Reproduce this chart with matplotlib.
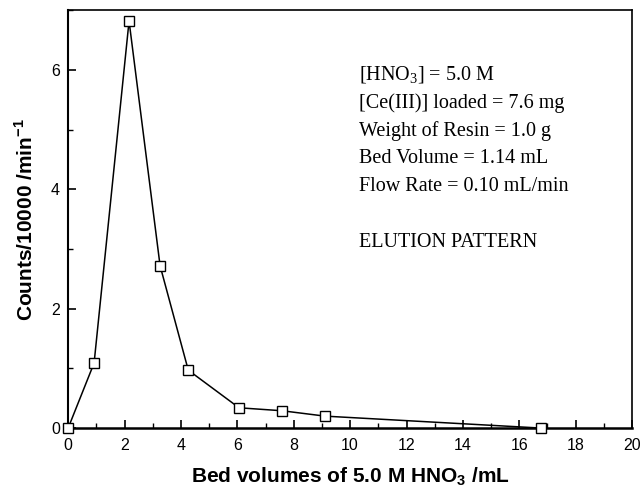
import matplotlib
matplotlib.use('Agg')
import matplotlib.pyplot as plt
from matplotlib.ticker import MultipleLocator

# --- Data ---
bed_volumes = [0.0, 0.92, 2.16, 3.26, 4.26, 6.06, 7.59, 9.11, 16.77]
counts = [0.0, 1.09, 6.82, 2.72, 0.97, 0.34, 0.29, 0.20, 0.0]

x_ticks = [0, 2, 4, 6, 8, 10, 12, 14, 16, 18, 20]
y_ticks = [0, 2, 4, 6]

info_lines = [
    r'[HNO$_3$] = 5.0 M',
    '[Ce(III)] loaded = 7.6 mg',
    'Weight of Resin = 1.0 g',
    'Bed Volume = 1.14 mL',
    'Flow Rate = 0.10 mL/min',
    '',
    'ELUTION PATTERN',
]

plt.rcParams['font.family'] = ['Liberation Sans', 'DejaVu Sans']
plt.rcParams['mathtext.fontset'] = 'custom'
plt.rcParams['mathtext.rm'] = 'Liberation Serif'
plt.rcParams['mathtext.bf'] = 'Liberation Sans:bold'

fig = plt.figure(figsize=(6.43, 4.87), dpi=100)
ax = fig.add_axes([0.106, 0.121, 0.877, 0.858])

ax.plot(bed_volumes, counts, '-', color='black', linewidth=1.1,
        marker='s', markersize=6.5, markerfacecolor='white',
        markeredgecolor='black', markeredgewidth=1.0, clip_on=False, zorder=3)

ax.set_xlim(0, 20)
ax.set_ylim(0, 7)
ax.set_xticks(x_ticks)
ax.set_yticks(y_ticks)
ax.xaxis.set_minor_locator(MultipleLocator(1))
ax.yaxis.set_minor_locator(MultipleLocator(1))
ax.tick_params(which='both', direction='in', top=False, right=False, labelsize=11.5)
ax.tick_params(axis='x', which='major', pad=7)
ax.tick_params(axis='y', which='major', pad=6)
ax.tick_params(which='major', length=6, width=1.2)
ax.tick_params(which='minor', length=3.5, width=1.0)
for s in ax.spines.values():
    s.set_linewidth(1.2)
ax.spines['bottom'].set_linewidth(1.8)
ax.spines['left'].set_linewidth(1.5)

ax.set_xlabel(r'Bed volumes of 5.0 M HNO$_\mathbf{3}$ /mL', fontsize=15,
              fontweight='bold', labelpad=9)
ax.set_ylabel(r'Counts/10000 /min$^\mathbf{-1}$', fontsize=15,
              fontweight='bold', labelpad=10)

# annotation block
for i, line in enumerate(info_lines):
    ax.text(0.515, 0.845 - i * 0.067, line, transform=ax.transAxes,
            family='Liberation Serif', fontsize=14.5, va='center', ha='left')

fig.savefig('out.png', dpi=100)
